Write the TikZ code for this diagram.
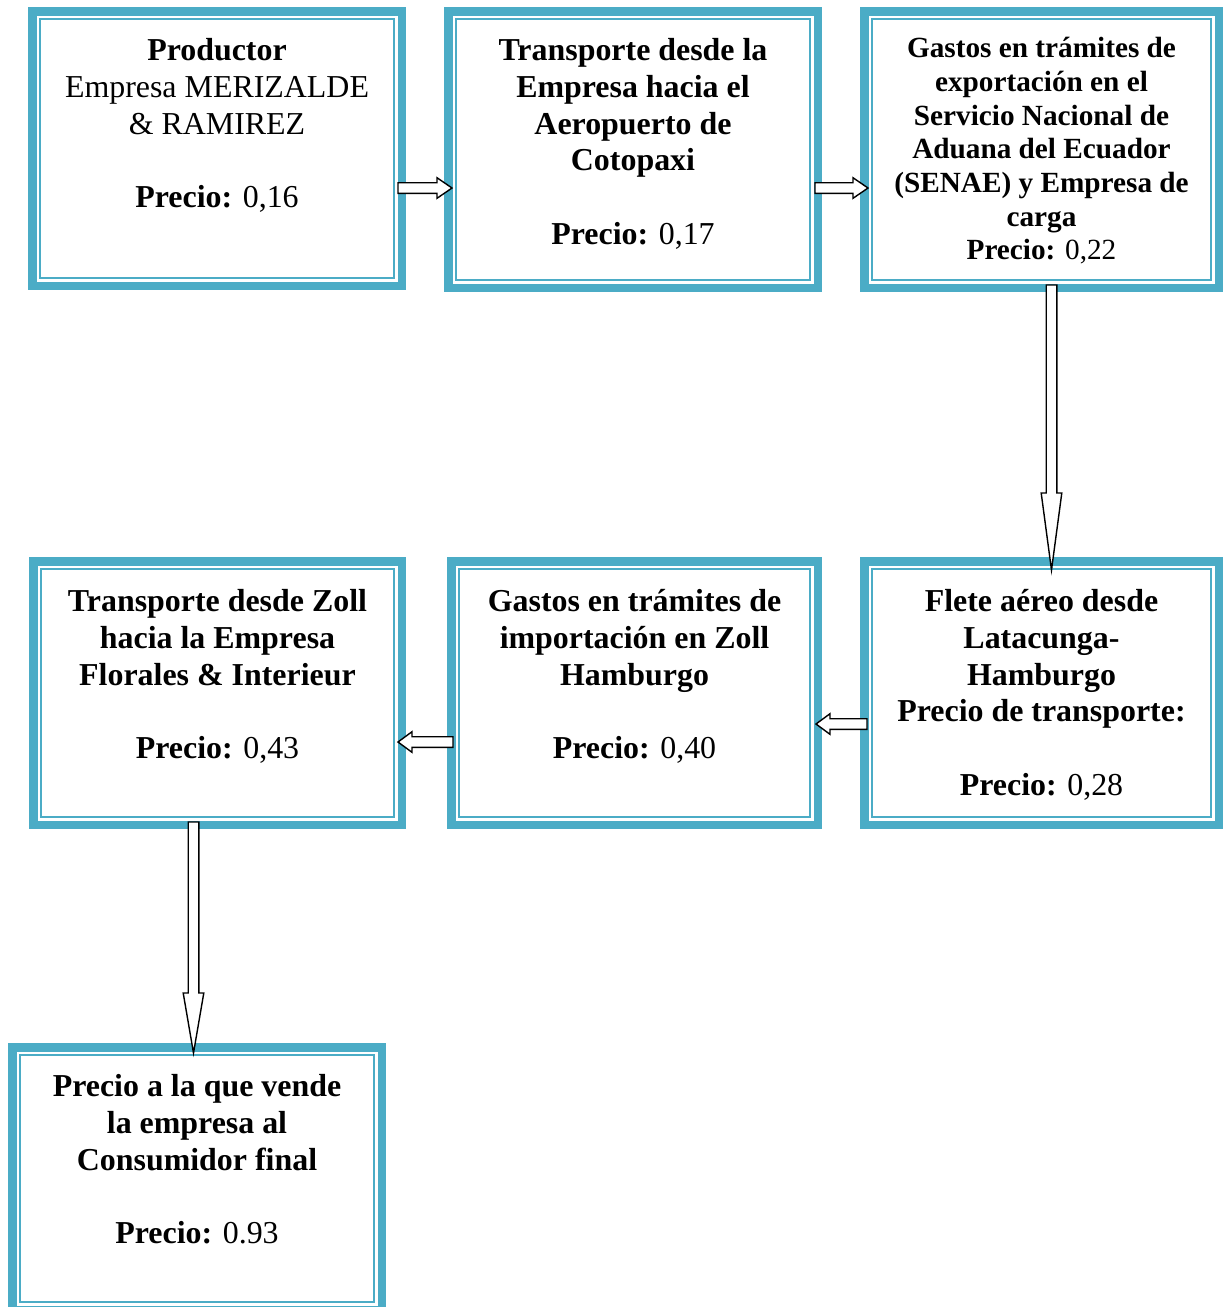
\documentclass[tikz,border=0pt]{standalone}
\usepackage{fontspec}
\setmainfont{Liberation Serif}
\usetikzlibrary{calc}

\definecolor{azul}{RGB}{75,172,198}
\newcommand{\pxu}{0.376pt}

\tikzset{
  caja/.style 2 args={draw=azul, line width=8.5*\pxu, fill=white, inner sep=0pt,
    minimum width=(#1-8.5)*\pxu, minimum height=(#2-8.5)*\pxu,
    path picture={\draw[azul, line width=2.5*\pxu]
      ([shift={(7.8,7.8)}]path picture bounding box.north west) rectangle
      ([shift={(-7.8,-7.8)}]path picture bounding box.south east);}},
  texto/.style={align=center, inner sep=0pt, anchor=north,
    font=\fontsize{12}{13.8}\selectfont\bfseries},
  textochico/.style={texto, font=\fontsize{11}{12.65}\selectfont\bfseries},
  flecha/.style={draw=black, fill=white, line width=1.4*\pxu,
    to path={let \p1=(\tikztostart), \p2=(\tikztotarget),
      \p3=($(\p2)!#1*\pxu!(\p1)$) in
      ($(\p1)!5.3*\pxu!90:(\p2)$) -- ($(\p3)!5.3*\pxu!90:(\p2)$)
      -- ($(\p3)!10.3*\pxu!90:(\p2)$) -- (\p2)
      -- ($(\p3)!10.3*\pxu!-90:(\p2)$) -- ($(\p3)!5.3*\pxu!-90:(\p2)$)
      -- ($(\p1)!5.3*\pxu!-90:(\p2)$) -- cycle}}
}

\begin{document}
\begin{tikzpicture}[x=\pxu, y=-\pxu]
  \path[use as bounding box, fill=white] (0,0) rectangle (1229,1307);

  % cajas
  \node[caja={378}{283}] (productor) at (217,148.5) {};
  \node[caja={378}{285}] (transporte) at (633,149.5) {};
  \node[caja={363}{285}] (aduana) at (1041.5,149.5) {};
  \node[caja={363}{272}] (flete) at (1041.5,693) {};
  \node[caja={375}{272}] (importacion) at (634.5,693) {};
  \node[caja={377}{272}] (zoll) at (217.5,693) {};
  \node[caja={378}{271}] (consumidor) at (197,1178.5) {};

  % textos
  \node[texto] (productor-t) at ($(productor.north)+(0,31)$)
    {Productor\\ \textmd{Empresa MERIZALDE}\\ \textmd{\& RAMIREZ}\\[13.8pt]
     Precio: \textmd{0,16}};
  \node[texto] (transporte-t) at ($(transporte.north)+(0,31)$)
    {Transporte desde la\\ Empresa hacia el\\ Aeropuerto de\\ Cotopaxi\\[13.8pt]
     Precio: \textmd{0,17}};
  \node[textochico] (aduana-t) at ($(aduana.north)+(0,30)$)
    {Gastos en trámites de\\ exportación en el\\ Servicio Nacional de\\
     Aduana del Ecuador\\ (SENAE) y Empresa de\\ carga\\ Precio: \textmd{0,22}};
  \node[texto] (flete-t) at ($(flete.north)+(0,32)$)
    {Flete aéreo desde\\ Latacunga-\\ Hamburgo\\ Precio de transporte:\\[13.8pt]
     Precio: \textmd{0,28}};
  \node[texto] (importacion-t) at ($(importacion.north)+(0,32)$)
    {Gastos en trámites de\\ importación en Zoll\\ Hamburgo\\[13.8pt]
     Precio: \textmd{0,40}};
  \node[texto] (zoll-t) at ($(zoll.north)+(0,32)$)
    {Transporte desde Zoll\\ hacia la Empresa\\ Florales \& Interieur\\[13.8pt]
     Precio: \textmd{0,43}};
  \node[texto] (consumidor-t) at ($(consumidor.north)+(0,31)$)
    {Precio a la que vende\\ la empresa al\\ Consumidor final\\[13.8pt]
     Precio: \textmd{0.93}};

  % flechas
  \draw[flecha=15] ($(productor.east)+(-8,39.5)$) to ($(transporte.west)+(8,38.5)$);
  \draw[flecha=15] ($(transporte.east)+(-7,38.5)$) to ($(aduana.west)+(8,38.5)$);
  \draw[flecha=77] ($(aduana.south)+(10,-7)$) to ($(flete.north)+(10,13)$);
  \draw[flecha=14] ($(flete.west)+(7,31)$) to ($(importacion.east)+(-6,31)$);
  \draw[flecha=14] ($(importacion.west)+(6,49)$) to ($(zoll.east)+(-8,49)$);
  \draw[flecha=60] ($(zoll.south)+(-24,-7)$) to ($(consumidor.north)+(-3.5,10)$);
\end{tikzpicture}
\end{document}
